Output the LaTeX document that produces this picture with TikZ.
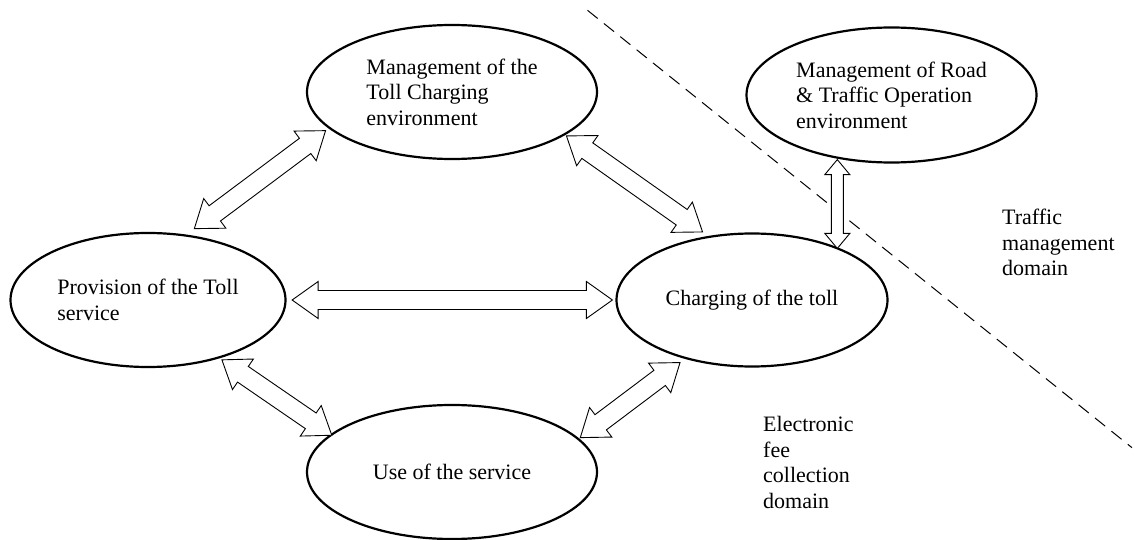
\documentclass[tikz,border=0pt]{standalone}
\usepackage{fontspec}
\setmainfont{Liberation Serif}
\usetikzlibrary{shapes.geometric,calc}
\tikzset{
  ell/.style={ellipse, draw, line width=2.2pt, inner sep=0pt, align=left,
    font=\fontsize{22}{25.5}\selectfont},
  lbl/.style={align=left, inner sep=0pt, font=\fontsize{22}{25.5}\selectfont},
  fat/.style={draw, line width=0.9pt, fill=white, line join=miter},
  domline/.style={line width=1pt, dash pattern=on 13pt off 8pt},
}
% #1 tip A, #2 tip B, #3 head half width, #4 head length, #5 shaft half width
\newcommand{\fatarrow}[5]{%
  \coordinate (faA) at (#1);
  \coordinate (faB) at (#2);
  \coordinate (faHA) at ($(faA)!#4!(faB)$);
  \coordinate (faHB) at ($(faB)!#4!(faA)$);
  \draw[fat] (faA) -- ($(faHA)!#3!90:(faB)$) -- ($(faHA)!#5!90:(faB)$)
    -- ($(faHB)!#5!-90:(faA)$) -- ($(faHB)!#3!-90:(faA)$) -- (faB)
    -- ($(faHB)!#3!90:(faA)$) -- ($(faHB)!#5!90:(faA)$)
    -- ($(faHA)!#5!-90:(faB)$) -- ($(faHA)!#3!-90:(faB)$) -- cycle;
}
\begin{document}
\begin{tikzpicture}[x=1pt,y=-1pt]
\path[use as bounding box, fill=white] (0,0) rectangle (1135,540);

% domain separator
\coordinate (dashA) at (587.5,10.3);
\coordinate (dashB) at (1132,447.7);
\draw[domline] (dashA) -- (dashB);

% ellipses
\node[ell, minimum width=290pt, minimum height=134pt] (mgmt) at (452,92)
  {Management of the\\Toll Charging\\environment};
\node[ell, minimum width=275pt, minimum height=134pt] (prov) at (148,300)
  {Provision of the Toll\\service};
\node[ell, minimum width=290pt, minimum height=134pt] (use) at (452,472)
  {Use of the service};
\node[ell, minimum width=271pt, minimum height=133pt] (charg) at (752,300)
  {Charging of the toll};
\node[ell, minimum width=290pt, minimum height=135pt] (road) at (891.5,95)
  {Management of Road\\\& Traffic Operation\\environment};

% domain labels
\node[lbl, anchor=west] (traffic) at (1002,242.5) {Traffic\\management\\domain};
\node[lbl, anchor=west] (efc) at (763,462.5) {Electronic\\fee\\collection\\domain};

% arrow tips
\coordinate (t1a) at ($(prov.center)!1.10!(prov.57.6)$);
\coordinate (t1b) at ($(mgmt.center)!1.035!(mgmt.197.9)$);
\coordinate (t2a) at ($(mgmt.center)!1.015!(mgmt.339.4)$);
\coordinate (t2b) at ($(charg.center)!1.07!(charg.126.7)$);
\coordinate (t3a) at ($(prov.center)!1.04!(prov.east)$);
\coordinate (t3b) at ($(charg.center)!1.022!(charg.west)$);
\coordinate (t4a) at ($(prov.center)!1.028!(prov.321.3)$);
\coordinate (t4b) at ($(use.center)!0.984!(use.163.6)$);
\coordinate (t5a) at ($(use.center)!1.013!(use.15.5)$);
\coordinate (t5b) at ($(charg.center)!1.065!(charg.221.9)$);
\coordinate (t6a) at ($(road.center)!1.012!(road.230.9)$);
\coordinate (t6c) at ($(charg.center)!1.005!(charg.30.5)$);
\coordinate (t6b) at (t6a |- t6c);

\fatarrow{t1a}{t1b}{18.5pt}{25.5pt}{9.5pt}
\fatarrow{t2a}{t2b}{18.5pt}{25.5pt}{9.5pt}
\fatarrow{t3a}{t3b}{18.5pt}{26pt}{9.5pt}
\fatarrow{t4a}{t4b}{18.5pt}{25.5pt}{9.5pt}
\fatarrow{t5a}{t5b}{18.5pt}{25.5pt}{9.5pt}
\fatarrow{t6a}{t6b}{12.5pt}{15pt}{6pt}
\end{tikzpicture}
\end{document}
